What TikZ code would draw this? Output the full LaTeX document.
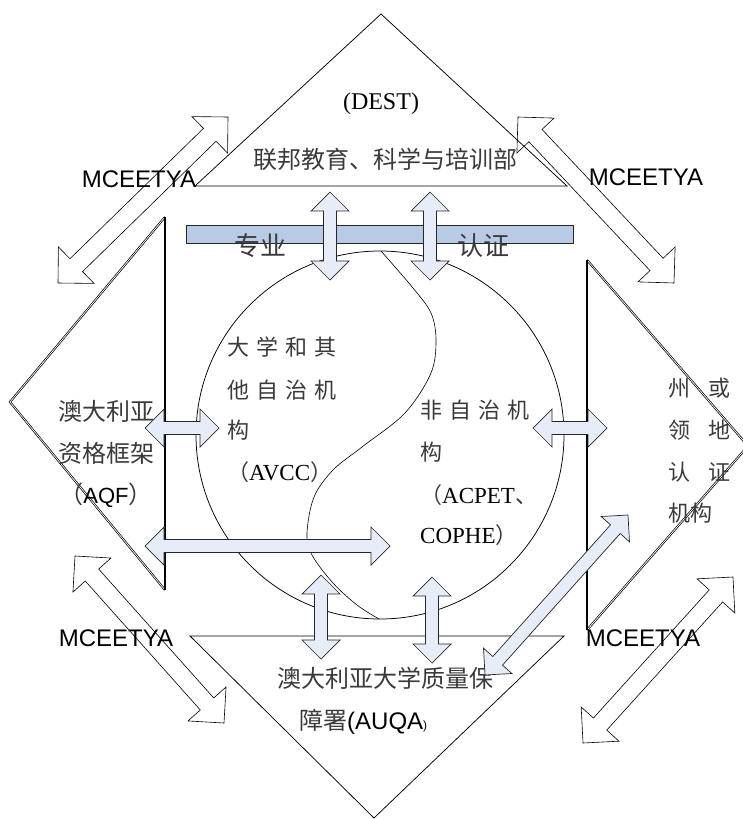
\documentclass[tikz,border=0pt]{standalone}
\usepackage{fontspec}
\setmainfont{Liberation Serif}
\newfontfamily\cjk{Noto Sans CJK SC}
\newfontfamily\arialf{Liberation Sans}
\usetikzlibrary{calc}
\definecolor{barblue}{HTML}{B9CAE4}
\definecolor{arrowblue}{HTML}{E7EDF8}
\definecolor{cjkgray}{HTML}{3A3A3A}
\newcommand\gp{\hspace{7pt}}
\newcommand\lat[1]{{\rmfamily\color{black}#1}}
\newcommand\ari[1]{{\arialf\color{black}#1}}
% #1 style, #2 prefix, #3 from, #4 to, #5 shaft half width, #6 head half width, #7 head length
\newcommand\blockarrow[7]{%
  \coordinate (#2-a) at ($(#3)!#7!(#4)$);
  \coordinate (#2-b) at ($(#4)!#7!(#3)$);
  \draw[#1] (#3) -- ($(#2-a)!#6!90:(#4)$) -- ($(#2-a)!#5!90:(#4)$)
    -- ($(#2-b)!#5!-90:(#3)$) -- ($(#2-b)!#6!-90:(#3)$) -- (#4)
    -- ($(#2-b)!#6!90:(#3)$) -- ($(#2-b)!#5!90:(#3)$)
    -- ($(#2-a)!#5!-90:(#4)$) -- ($(#2-a)!#6!-90:(#4)$) -- cycle;
}
\begin{document}
\begin{tikzpicture}[x=1pt,y=-1pt,
  shapeline/.style={draw=black, line width=0.75pt},
  sideedge/.style={draw=black, double=white, double distance=0.7pt, line width=0.7pt},
  vedge/.style={draw=black, line width=1.1pt},
  hollowarrow/.style={draw=black, line width=0.6pt, line join=miter},
  bluearrow/.style={draw=black!85, fill=arrowblue, line width=0.7pt, line join=miter},
  cjkA/.style={font=\cjk\fontsize{24}{24}\selectfont, text=cjkgray, inner sep=0pt},
  cjkB/.style={font=\cjk\fontsize{22}{22}\selectfont, text=cjkgray, inner sep=0pt, anchor=west},
  cjkC/.style={font=\cjk\fontsize{26}{26}\selectfont, text=cjkgray, inner sep=0pt},
  mc/.style={font=\arialf\fontsize{24}{24}\selectfont, inner sep=0pt},
]
\useasboundingbox (0,0) rectangle (743,819);
\clip (0,0) rectangle (743,819);

% ---- coordinates of the outer shapes
\coordinate (T1) at (381,14);  \coordinate (T2) at (195,186); \coordinate (T3) at (567,186);
\coordinate (L1) at (165,217); \coordinate (L2) at (10,402);  \coordinate (L3) at (165,590);
\coordinate (R1) at (587,260); \coordinate (R2) at (748,446); \coordinate (R3) at (587,630);
\coordinate (B1) at (190,636); \coordinate (B2) at (564,636); \coordinate (B3) at (374,818);

% ---- hollow MCEETYA arrows
\coordinate (m1a) at (58,283);  \coordinate (m1b) at (228,117);
\coordinate (m2a) at (518,117); \coordinate (m2b) at (674,283);
\coordinate (m3a) at (75,556);  \coordinate (m3b) at (224,723);
\coordinate (m4a) at (733,577); \coordinate (m4b) at (583,743);
\blockarrow{hollowarrow}{m1}{m1a}{m1b}{9pt}{25.5pt}{25.5pt}
\blockarrow{hollowarrow}{m2}{m2a}{m2b}{9pt}{25.5pt}{25.5pt}
\blockarrow{hollowarrow}{m3}{m3a}{m3b}{9pt}{25.5pt}{25.5pt}
\blockarrow{hollowarrow}{m4}{m4a}{m4b}{9pt}{25.5pt}{25.5pt}

% ---- triangles
\draw[shapeline] (T1) -- (T2) -- (T3) -- cycle;
\draw[shapeline] (B1) -- (B2) -- (B3) -- cycle;
\draw[sideedge] (L1) -- (L2) -- (L3);
\draw[vedge] (L1) -- (L3);
\draw[sideedge] (R1) -- (R2) -- (R3);
\draw[vedge] (R1) -- (R3);

% ---- circle with S curve
\node[circle, draw=black, line width=0.75pt, minimum size=368pt, inner sep=0pt] (ring) at (380,435) {};
\draw[line width=0.6pt] plot[smooth, tension=0.55] coordinates {(381,251) (413,288) (431,313) (436,340) (431,373) (405,413) (362,447) (333,470) (314,497) (307,533) (312,555) (333,583) (357,605) (379,619)};

% ---- bar
\node[draw=black!85, fill=barblue, line width=0.7pt, minimum width=387pt, minimum height=18pt, inner sep=0pt, anchor=north west] (bar) at (186,225) {};

% ---- texts
\node[cjkA] (dest) at (381,104) {\lat{(DEST)}};
\node[cjkA] (dept) at (385,159) {联邦教育、科学与培训部};
\node[mc] (mcTL) at (139,179) {MCEETYA};
\node[mc] (mcTR) at (646,177) {MCEETYA};
\node[mc] (mcBL) at (116,638) {MCEETYA};
\node[mc] (mcBR) at (643,638) {MCEETYA};
\node[cjkC] (zy) at (260,246) {专业};
\node[cjkC] (rz) at (483,246) {认证};

\node[cjkA] (aqf1) at (106,411) {澳大利亚};
\node[cjkA] (aqf2) at (106,453) {资格框架};
\node[cjkA] (aqf3) at (106,495) {（{\arialf\color{black}\fontsize{22}{22}\selectfont AQF}）};

\node[cjkB] (u1) at (227,347) {大\gp 学\gp 和\gp 其};
\node[cjkB] (u2) at (227,390) {他\gp 自\gp 治\gp 机};
\node[cjkB] (u3) at (227,430) {构};
\node[cjkB] (u4) at (227,472) {（\lat{\fontsize{23}{23}\selectfont AVCC}）};

\node[cjkB] (n1) at (420,410) {非\gp 自\gp 治\gp 机};
\node[cjkB] (n2) at (420,452) {构};
\node[cjkB] (n3) at (420,495) {（\lat{\fontsize{23}{23}\selectfont ACPET}、};
\node[cjkB] (n4) at (420,535) {\lat{\fontsize{23}{23}\selectfont COPHE}）};

\node[cjkB] (s1) at (668,388) {州\hspace{18pt}或};
\node[cjkB] (s2) at (668,430) {领\hspace{18pt}地};
\node[cjkB] (s3) at (668,472) {认\hspace{18pt}证};
\node[cjkB] (s4) at (668,513) {机构};

\node[cjkA] (q1) at (385,678) {澳大利亚大学质量保};
\node[cjkA, anchor=west] (q2) at (299,722) {障署\ari{(AUQA}{\arialf\color{black}\fontsize{12}{12}\selectfont)}};

% ---- blue double arrows
\coordinate (va1) at (330,192); \coordinate (va2) at (330,280);
\coordinate (vb1) at (430,192); \coordinate (vb2) at (430,280);
\coordinate (ha1) at (145,428); \coordinate (ha2) at (219,428);
\coordinate (hb1) at (533,428); \coordinate (hb2) at (607,428);
\coordinate (hc1) at (145,546); \coordinate (hc2) at (390,546);
\coordinate (vc1) at (321,575); \coordinate (vc2) at (321,659);
\coordinate (vd1) at (432,577); \coordinate (vd2) at (432,663);
\coordinate (dg1) at (628,515); \coordinate (dg2) at (485,675);
\blockarrow{bluearrow}{va}{va1}{va2}{6.5pt}{19pt}{19pt}
\blockarrow{bluearrow}{vb}{vb1}{vb2}{6.5pt}{19pt}{19pt}
\blockarrow{bluearrow}{ha}{ha1}{ha2}{6.5pt}{19pt}{19pt}
\blockarrow{bluearrow}{hb}{hb1}{hb2}{6.5pt}{19pt}{19pt}
\blockarrow{bluearrow}{hc}{hc1}{hc2}{6.5pt}{19pt}{19pt}
\blockarrow{bluearrow}{vc}{vc1}{vc2}{6.5pt}{19pt}{19pt}
\blockarrow{bluearrow}{vd}{vd1}{vd2}{6.5pt}{19pt}{19pt}
\blockarrow{bluearrow}{dg}{dg1}{dg2}{6.5pt}{19pt}{19pt}
\end{tikzpicture}
\end{document}
